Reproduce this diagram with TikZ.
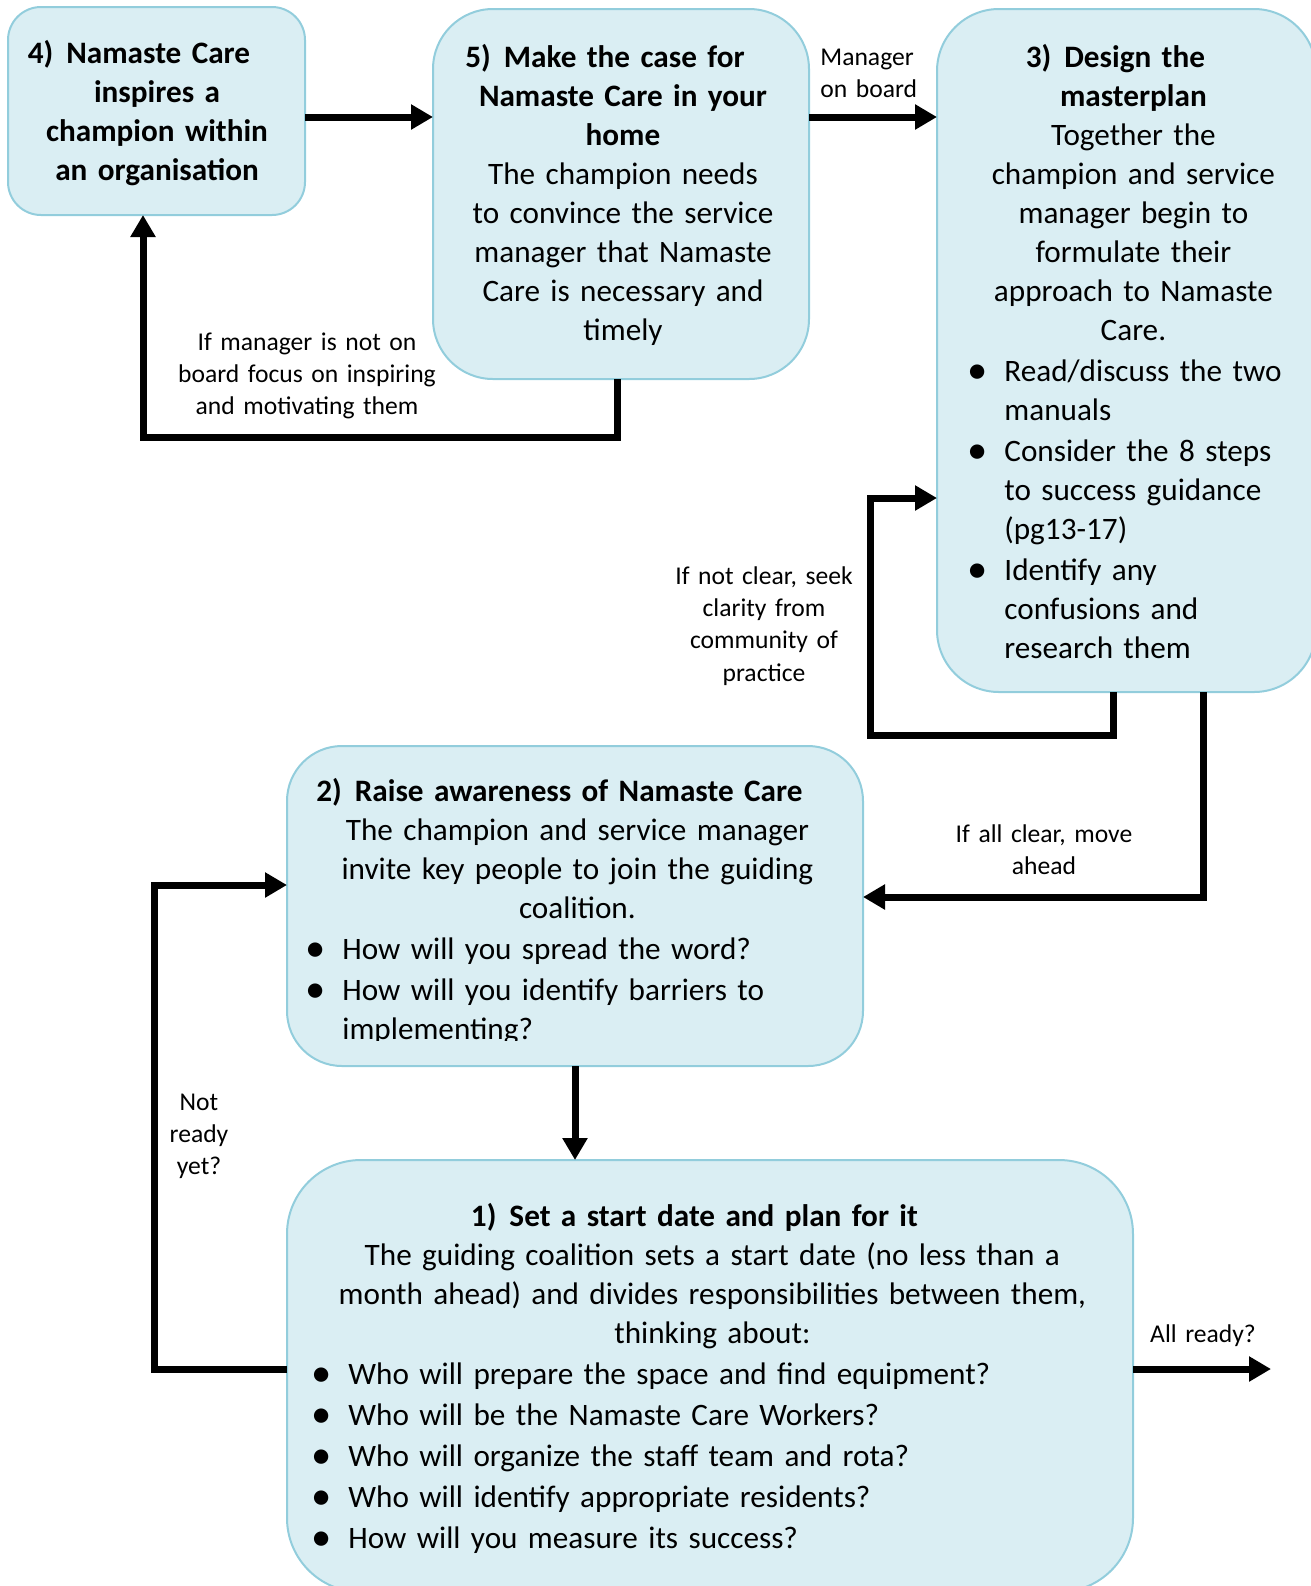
\documentclass[tikz,border=0pt]{standalone}
\usepackage{fontspec}
\setmainfont{Carlito}
\usepackage{graphicx}
\usetikzlibrary{arrows.meta, positioning}

\definecolor{boxfill}{HTML}{DAEEF3}
\definecolor{boxline}{HTML}{92CDDC}

\newlength{\bulletind}
\setlength{\bulletind}{18.5pt}
\newcommand{\bigdot}{\raisebox{-1.2pt}{\scalebox{1.3}{\textbullet}}}
\newcommand{\numhead}[2]{\hspace*{-18pt}\textbf{#1\hspace{6.5pt}#2}}
\newcommand{\bulletline}[1]{\par\vspace{1pt}{\raggedright\let\\\newline\hangindent=\bulletind\hangafter=1\noindent\makebox[\bulletind][l]{\bigdot}#1\par}}

\begin{document}
\begin{tikzpicture}[x=0.5pt,y=0.5pt,yscale=-1,xscale=1,
  stepbox/.style={draw=boxline, fill=boxfill, line width=1pt, inner sep=0pt, outer sep=0pt, anchor=north west},
  boxtext/.style={inner sep=0pt, align=center, font=\fontsize{15.6pt}{19.5pt}\selectfont},
  lbl/.style={inner sep=0pt, align=center, font=\fontsize{12.8pt}{16.2pt}\selectfont},
  flow/.style={line width=3.5pt, -{Triangle[length=11pt,width=12pt]}}]
\useasboundingbox (0,0) rectangle (1311,1586);
\clip (0,0) rectangle (1311,1586);

%Shape: Rounded Rect 4
\node[stepbox, minimum width=148.5pt, minimum height=104pt, rounded corners=16.5pt] (b4) at (8,7) {};
%Shape: Rounded Rect 5
\node[stepbox, minimum width=188pt, minimum height=185pt, rounded corners=30pt] (b5) at (433,9) {};
%Shape: Rounded Rect 3
\node[stepbox, minimum width=189.5pt, minimum height=341.5pt, rounded corners=31pt] (b3) at (937,9) {};
%Shape: Rounded Rect 2
\node[stepbox, minimum width=288pt, minimum height=160pt, rounded corners=27.5pt] (b2) at (287,746) {};
%Shape: Rounded Rect 1
\node[stepbox, minimum width=423pt, minimum height=216pt, rounded corners=37pt] (b1) at (287,1160) {};

% Text Node
\node[boxtext, text width=135pt, anchor=base] (t4) at (157,63) {\bfseries\numhead{4)}{Namaste Care}\\ inspires a\\ champion within\\ an organisation};
% Text Node
\node[boxtext, text width=170pt, anchor=base] (t5) at (623,67) {\numhead{5)}{Make the case for}\\ \textbf{Namaste Care in your}\\ \textbf{home}\\ The champion needs\\ to convince the service\\ manager that Namaste\\ Care is necessary and\\ timely};
% Text Node
\node[boxtext, text width=166pt, anchor=base west] (t3) at (967,67) {\numhead{3)}{Design the}\\ \textbf{masterplan}\\ Together the\\ champion and service\\ manager begin to\\ formulate their\\ approach to Namaste\\ Care.\par
\bulletline{Read/discuss the two\\ manuals}
\bulletline{Consider the 8 steps\\ to success guidance\\ (pg13-17)}
\bulletline{Identify any\\ confusions and\\ research them}};
% Text Node
\begin{scope}
\clip (287,746) rectangle (863,1040);
\node[boxtext, text width=272pt, anchor=base west] (t2) at (305,801) {\numhead{2)}{Raise awareness of Namaste Care}\\ The champion and service manager\\ invite key people to join the guiding\\ coalition.\par
\bulletline{How will you spread the word?}
\bulletline{How will you identify barriers to\\ implementing?}};
\end{scope}
% Text Node
\node[boxtext, text width=401pt, anchor=base west] (t1) at (311,1226) {\numhead{1)}{Set a start date and plan for it}\\ The guiding coalition sets a start date (no less than a\\ month ahead) and divides responsibilities between them,\\ thinking about:\par
\bulletline{Who will prepare the space and find equipment?}
\bulletline{Who will be the Namaste Care Workers?}
\bulletline{Who will organize the staff team and rota?}
\bulletline{Who will identify appropriate residents?}
\bulletline{How will you measure its success?}};

% Label Nodes
\node[lbl, text width=55pt, align=left, anchor=base west] (lmgr) at (820,65) {Manager\\ on board};
\node[lbl, text width=140pt, anchor=base] (lnot) at (307,350) {If manager is not on\\ board focus on inspiring\\ and motivating them};
\node[lbl, text width=100pt, anchor=base] (lseek) at (764,584) {If not clear, seek\\ clarity from\\ community of\\ practice};
\node[lbl, text width=100pt, anchor=base] (lall) at (1044,842) {If all clear, move\\ ahead};
\node[lbl, text width=40pt, anchor=base] (lwait) at (199,1110) {Not\\ ready\\ yet?};
\node[lbl, text width=60pt, anchor=base] (lgo) at (1203,1342) {All ready?};

%Connectors
\coordinate (k1) at (0,117);
\coordinate (k2a) at (617,437);
\coordinate (k2b) at (143,437);
\coordinate (k3a) at (1113,735);
\coordinate (k3b) at (870,498);
\coordinate (k4) at (1203,897);
\coordinate (k5) at (154,1369);
\coordinate (k6) at (154,885);
\coordinate (k7) at (1271,1369);

\draw[flow] (b4.east |- k1) -- (b5.west |- k1);
\draw[flow] (b5.east |- k1) -- (b3.west |- k1);
\draw[flow] (k2a |- b5.south) -- (k2a) -- (k2b) -- (k2b |- b4.south);
\draw[flow] (k3a |- b3.south) -- (k3a) -| (k3b) -- (k3b -| b3.west);
\draw[flow] (k4 |- b3.south) -- (k4) -- (k4 -| b2.east);
\draw[flow] (b2.south) -- (b2.south |- b1.north);
\draw[flow] (b1.west |- k5) -- (k5) -- (k6) -- (k6 -| b2.west);
\draw[flow] (b1.east |- k7) -- (k7);
\end{tikzpicture}
\end{document}
